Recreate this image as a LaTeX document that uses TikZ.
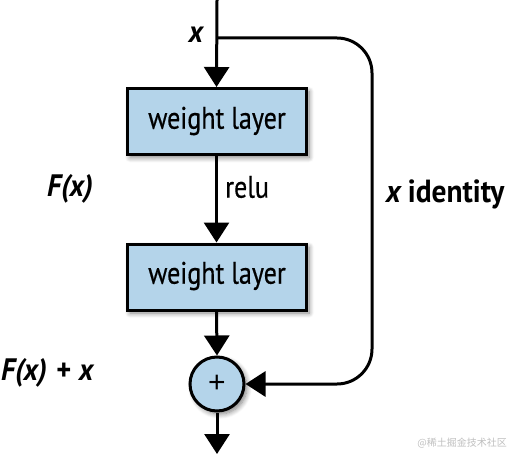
\documentclass[tikz,border=0pt]{standalone}
\usepackage{fontspec}
\setmainfont[FakeStretch=0.84,FakeBold=0.5]{PT Sans}
\newfontfamily\boldlbl[FakeStretch=0.92]{PT Sans}
\newfontfamily\cjkwm{Noto Sans CJK SC}
\usetikzlibrary{arrows.meta,shadows.blur}
\definecolor{boxblue}{HTML}{B4D4EA}
\tikzset{
  wbox/.style={draw=black, line width=3pt, fill=boxblue, minimum width=179pt, minimum height=66pt, inner sep=0pt,
    blur shadow={shadow xshift=3pt, shadow yshift=-3pt, shadow blur steps=8, shadow blur radius=5pt, shadow opacity=50}},
  sumnode/.style={draw=black, line width=3pt, fill=boxblue, circle, minimum size=54pt, inner sep=0pt,
    blur shadow={shadow xshift=3pt, shadow yshift=-3pt, shadow blur steps=8, shadow blur radius=5pt, shadow opacity=50}},
  conn/.style={line width=3pt, -{Triangle[length=20pt,width=25pt]}},
  lbl/.style={font=\fontsize{31}{34}\selectfont, inner sep=0pt},
  blbl/.style={font=\fontsize{31}{34}\selectfont\boldlbl\bfseries, inner sep=0pt},
}
\begin{document}
\begin{tikzpicture}[x=1pt,y=-1pt]
\useasboundingbox (0,0) rectangle (510,454);
\coordinate (top) at (217,0);
\coordinate (br) at (217,38);
\coordinate (rt) at (372,38);
\coordinate (rb) at (372,384);
\coordinate (bot) at (217,454);
\node[wbox] (w1) at (216.5,121.5) {};
\node[wbox] (w2) at (216.5,277) {};
\node[lbl] (t1) at (217,121) {weight layer};
\node[lbl] (t2) at (217,276) {weight layer};
\node[sumnode] (plus) at (217,384) {};
\node[inner sep=0pt, font=\fontsize{30}{30}\selectfont\fontspec{Liberation Sans}] (pl) at (217,383.5) {+};
\draw[conn] (top) -- (w1.north);
\draw[conn] (w1.south) -- (w2.north);
\draw[conn] (w2.south) -- (plus.north);
\draw[conn] (plus.south) -- (bot);
\draw[conn, rounded corners=35pt] (br) -- (rt) -- (rb) -- (plus.east);
\node[blbl] (lx) at (196,35) {\itshape x};
\node[lbl, anchor=west] (relu) at (225,187) {relu};
\node[blbl] (fx) at (70,189) {\itshape F(x)};
\node[blbl, anchor=west] (fxx) at (1,373) {\itshape F(x)\/\hspace{0.3em}\upshape+\hspace{0.25em}\itshape x};
\node[blbl, anchor=west, font=\fontsize{32}{34}\selectfont\boldlbl\bfseries] (xid) at (386,194) {\itshape x\/\upshape\hspace{0.18em}identity};
\node[anchor=east, inner sep=0pt, text=black!25, font=\fontsize{10}{12}\selectfont\cjkwm] (wm) at (507,443) {@稀土掘金技术社区};
\end{tikzpicture}
\end{document}
